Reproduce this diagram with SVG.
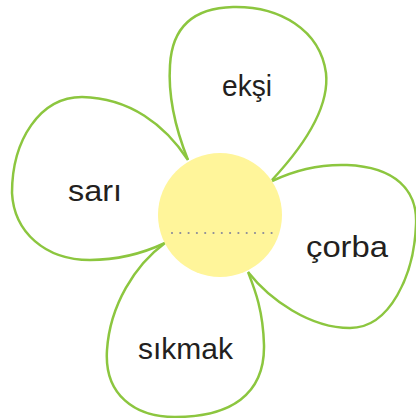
<svg xmlns="http://www.w3.org/2000/svg" width="416" height="418" viewBox="0 0 416 418">
<style>
.petal{fill:#ffffff;stroke:#8cc63f;stroke-width:2.5;stroke-linejoin:round}
.lbl{font-family:"Liberation Sans",Arial,sans-serif;font-size:30px;fill:#231f20}
</style>
<rect width="416" height="418" fill="#ffffff"/>
<g id="petal-top">
<path class="petal" d="M188,160 C176,130 168,95 170,65 C172,30 190,8 233,7 C280,6 320,30 326,73 C330,110 300,150 272,180"/>
<text class="lbl" x="222" y="96" textLength="50" lengthAdjust="spacingAndGlyphs">ekşi</text>
</g>
<g id="petal-left">
<path class="petal" d="M188,160 C165,125 130,98 82,97 C40,97 12,140 12,193 C14,232 45,260 90,260 C125,260 150,250 165,243"/>
<text class="lbl" x="68" y="201" textLength="54" lengthAdjust="spacingAndGlyphs">sarı</text>
</g>
<g id="petal-right">
<path class="petal" d="M272,181 C295,170 320,164 347,165 C395,167 418,190 416,225 C414,275 390,328 350,328 C310,328 270,300 248,272"/>
<text class="lbl" x="306" y="257" textLength="82" lengthAdjust="spacingAndGlyphs">çorba</text>
</g>
<g id="petal-bottom">
<path class="petal" d="M165,243 C135,265 110,305 107,350 C104,395 135,417 175,417 C230,417 265,395 264,345 C263,310 255,290 248,272"/>
<text class="lbl" x="138" y="359" textLength="95" lengthAdjust="spacingAndGlyphs">sıkmak</text>
</g>
<g id="center">
<circle cx="220" cy="215" r="62" fill="#fff59a"/>
<line x1="172" y1="233" x2="272" y2="233" stroke="#8a8a9a" stroke-width="2.2" stroke-linecap="round" stroke-dasharray="0 8.3"/>
</g>
</svg>
